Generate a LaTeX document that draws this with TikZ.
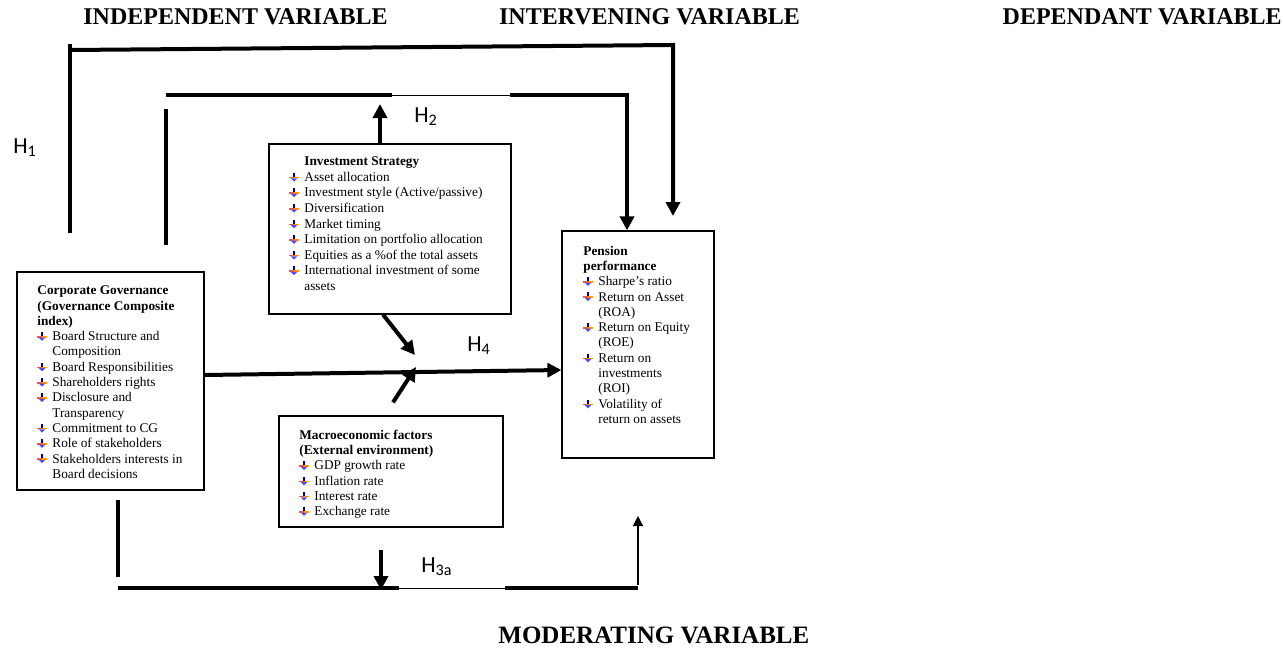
\documentclass[tikz,border=0pt]{standalone}
\usepackage{fontspec}
\setmainfont{Liberation Serif}
\newfontfamily\hfont{Carlito}
\usetikzlibrary{arrows.meta}

\newcommand{\bul}{\tikz[x=1pt,y=1pt,baseline=0pt]{%
  \fill[blue!55!black] (1.95,2.2) rectangle (2.65,4.3);
  \fill[red!70] (0,1.5) rectangle (2.3,2.3);
  \fill[orange!80!yellow] (2.3,1.5) rectangle (4.6,2.3);
  \fill[blue!70] (0.7,1.5) -- (3.9,1.5) -- (2.3,-0.1) -- cycle;}}
\newcommand{\itm}{\makebox[7.5pt][l]{\bul}}
\newcommand{\ind}{\hspace*{7.5pt}}

\begin{document}
\begin{tikzpicture}[
  x=0.5pt,y=-0.5pt,
  box/.style={draw,line width=0.6pt,inner sep=0pt},
  txt/.style={anchor=north west,inner sep=0pt,align=left,font=\fontsize{6.65}{7.65}\selectfont},
  head/.style={anchor=base,inner sep=0pt,font=\bfseries\fontsize{12}{14}\selectfont},
  hyp/.style={anchor=base west,inner sep=0pt,font=\hfont\fontsize{11.5}{13}\selectfont},
  bar/.style={line width=2pt},
  link/.style={line width=0.5pt},
  arr/.style={line width=2pt,-{Triangle[length=7pt,width=7pt]}},
  thinarr/.style={line width=0.6pt,-{Triangle[length=5pt,width=5pt]}}
  ]
\useasboundingbox (0,0) rectangle (1283,648);

\node[head] (indep) at (235.5,25) {INDEPENDENT VARIABLE};
\node[head] (interv) at (649.5,25) {INTERVENING VARIABLE};
\node[head,anchor=base east] (dep) at (1282,25) {DEPENDANT VARIABLE};
\node[head,anchor=base west,font=\bfseries\fontsize{12.5}{14}\selectfont] (moder) at (498,643) {MODERATING VARIABLE};

\node[box,minimum width=93.5pt,minimum height=109pt] (cg) at (110.5,381) {};
\node[box,minimum width=121pt,minimum height=85pt] (inv) at (390,229) {};
\node[box,minimum width=76pt,minimum height=113.5pt] (pp) at (638,344.5) {};
\node[box,minimum width=112pt,minimum height=55.5pt] (mac) at (391,471.5) {};

\node[txt] (cgtxt) at (37,285.5) {\textbf{Corporate Governance}\\
  \textbf{(Governance Composite}\\
  \textbf{index)}\\
  \itm Board Structure and\\
  \ind Composition\\
  \itm Board Responsibilities\\
  \itm Shareholders rights\\
  \itm Disclosure and\\
  \ind Transparency\\
  \itm Commitment to CG\\
  \itm Role of stakeholders\\
  \itm Stakeholders interests in\\
  \ind Board decisions};
\node[txt,font=\fontsize{6.65}{7.8}\selectfont] (invtxt) at (289,156.5) {\ind\textbf{Investment Strategy}\\
  \itm Asset allocation\\
  \itm Investment style (Active/passive)\\
  \itm Diversification\\
  \itm Market timing\\
  \itm Limitation on portfolio allocation\\
  \itm Equities as a \%of the total assets\\
  \itm International investment of some\\
  \ind assets};
\node[txt] (pptxt) at (583,245.5) {\textbf{Pension}\\
  \textbf{performance}\\
  \itm Sharpe's ratio\\
  \itm Return on Asset\\
  \ind (ROA)\\
  \itm Return on Equity\\
  \ind (ROE)\\
  \itm Return on\\
  \ind investments\\
  \ind (ROI)\\
  \itm Volatility of\\
  \ind return on assets};
\node[txt] (mactxt) at (299,429.5) {\textbf{Macroeconomic factors}\\
  \textbf{(External environment)}\\
  \itm GDP growth rate\\
  \itm Inflation rate\\
  \itm Interest rate\\
  \itm Exchange rate};

\coordinate (o1) at (70,233);
\coordinate (o2) at (70,44);
\coordinate (o3) at (70,50);
\coordinate (o4) at (673,45);
\coordinate (o5) at (673,216);
\draw[bar] (o1) -- (o2);
\draw[arr] (o3) -- (o4) -- (o5);

\coordinate (in1) at (166,245);
\coordinate (in2) at (166,109);
\coordinate (in3) at (166,95);
\coordinate (in4) at (392,95);
\coordinate (in5) at (510,95);
\coordinate (in6) at (627,95);
\draw[bar] (in1) -- (in2);
\draw[bar] (in3) -- (in4);
\draw[link] (in4) -- (in5);
\draw[arr] (in5) -- (in6) -- ([xshift=-5.5pt]pp.north);

\coordinate (h2tip) at (380,104);
\draw[arr] ([xshift=-5pt]inv.north) -- (h2tip);

\coordinate (m4) at (415,355);
\coordinate (m5) at (416,367);
\draw[arr] ([xshift=-3.5pt]inv.south) -- (m4);
\draw[arr] ([xshift=1pt,yshift=6.5pt]mac.north) -- (m5);
\draw[arr] ([yshift=3pt]cg.east) -- ([yshift=-12.75pt]pp.west);

\coordinate (b1) at (118,500);
\coordinate (b2) at (118,577);
\coordinate (b3) at (118,588);
\coordinate (b4) at (399,588);
\coordinate (b5) at (505,588);
\coordinate (b6) at (638,588);
\coordinate (h3top) at (381,550);
\coordinate (h3tip) at (381,590);
\coordinate (upfoot) at (638,585);
\coordinate (uptip) at (638,516);
\draw[bar] (b1) -- (b2);
\draw[bar] (b3) -- (b4);
\draw[link] (b4) -- (b5);
\draw[bar] (b5) -- (b6);
\draw[arr] (h3top) -- (h3tip);
\draw[thinarr] (upfoot) -- (uptip);

\node[hyp] (h1) at (13,153) {H\textsubscript{1}};
\node[hyp] (h2) at (414,122) {H\textsubscript{2}};
\node[hyp] (h4) at (467,351) {H\textsubscript{4}};
\node[hyp] (h3) at (421,572) {H\textsubscript{3a}};
\end{tikzpicture}
\end{document}
